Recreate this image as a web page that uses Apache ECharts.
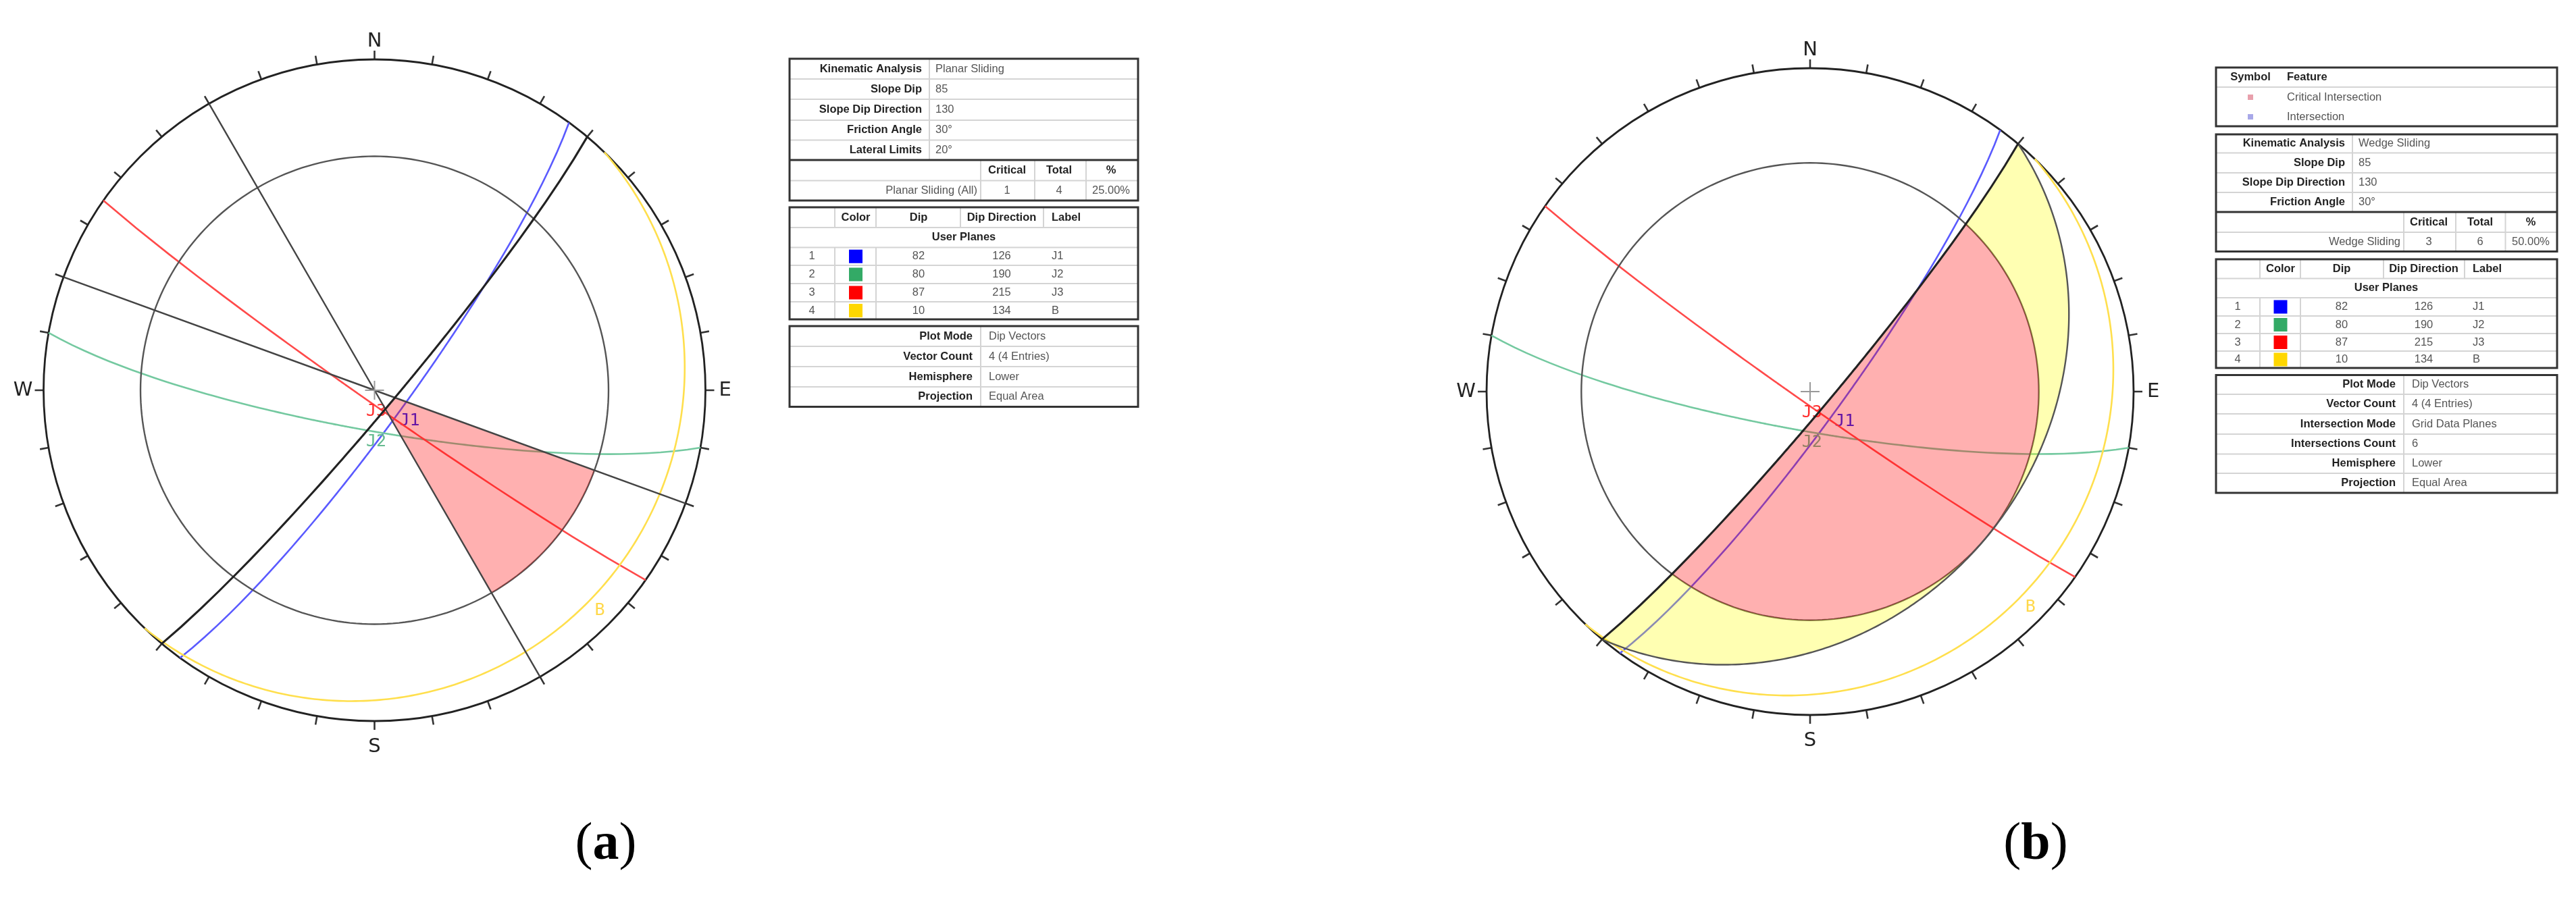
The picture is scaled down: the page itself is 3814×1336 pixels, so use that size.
<!DOCTYPE html>
<html>
<head>
<meta charset="utf-8">
<title>Kinematic analysis stereonets</title>
<script src="https://cdn.jsdelivr.net/npm/echarts@6/dist/echarts.min.js"></script>
<style>
  html, body { margin: 0; padding: 0; background: #fff; }
  #chart { width: 3814px; height: 1336px; filter: blur(0.6px); }
</style>
</head>
<body>
<div id="chart"></div>
<script>
// 结构面数据
const planeIndex = ['1', '2', '3', '4']
const planeDips = [82, 80, 87, 10]
const planeDirs = [126, 190, 215, 134]
const planeLabels = ['J1', 'J2', 'J3', 'B']

const slopeDip = 85
const slopeDir = 130
const frictionAngle = 30
const lateralLimit = 20

const compassAngles = [0, 90, 180, 270]
const compassNames = ['N', 'E', 'S', 'W']

// table text
const planarNames = ['Kinematic Analysis', 'Slope Dip', 'Slope Dip Direction', 'Friction Angle', 'Lateral Limits']
const planarValues = ['Planar Sliding', '85', '130', '30°', '20°']
const planarResult = ['Planar Sliding (All)', '1', '4', '25.00%']
const wedgeNames = ['Kinematic Analysis', 'Slope Dip', 'Slope Dip Direction', 'Friction Angle']
const wedgeValues = ['Wedge Sliding', '85', '130', '30°']
const wedgeResult = ['Wedge Sliding', '3', '6', '50.00%']
const resultHeader = ['Critical', 'Total', '%']
const planesHeader = ['Color', 'Dip', 'Dip Direction', 'Label']
const planesTitle = 'User Planes'
const planarInfoNames = ['Plot Mode', 'Vector Count', 'Hemisphere', 'Projection']
const planarInfoValues = ['Dip Vectors', '4 (4 Entries)', 'Lower', 'Equal Area']
const wedgeInfoNames = ['Plot Mode', 'Vector Count', 'Intersection Mode', 'Intersections Count', 'Hemisphere', 'Projection']
const wedgeInfoValues = ['Dip Vectors', '4 (4 Entries)', 'Grid Data Planes', '6', 'Lower', 'Equal Area']
const symbolHeader = ['Symbol', 'Feature']
const symbolNames = ['Critical Intersection', 'Intersection']

// styles
const planeColors = ['#5a5aff', '#74c9a0', '#ff4a4a', '#ffdf4d']
const swatchColors = ['#0000ff', '#33aa66', '#ff0000', '#ffd700']
const labelColors = ['#2020f0', '#66bb90', '#ff3030', '#ffd84a']
const symbolColors = ['#e8a0ac', '#a8a8e8']
const FONT = '"Liberation Sans"'
const TABLE_SIZE = 16.5

const toRad = Math.PI / 180

// equal area projection, lower hemisphere: plunge -> radius on the net
function plungeRadius(plunge) {
    return Math.SQRT2 * Math.sin((90 - plunge) / 2 * toRad)
}

// radius of a great circle (dip / dip direction) at a given azimuth
function planeRadius(dip, dir, az) {
    let plunge = Math.atan(Math.tan(dip * toRad) * Math.cos((az - dir) * toRad)) / toRad
    return Math.min(plungeRadius(plunge), 1)
}

function norm(az) {
    return ((az % 360) + 360) % 360
}

function planeArc(api, dip, dir, from, to) {
    let pts = []
    let steps = 240
    for (let i = 0; i <= steps; i++) {
        let az = from + (to - from) * i / steps
        pts.push(api.coord([planeRadius(dip, dir, az), norm(az)]))
    }
    return pts
}

function circleArc(api, r, from, to) {
    let pts = []
    let steps = 240
    for (let i = 0; i <= steps; i++) {
        let az = from + (to - from) * i / steps
        pts.push(api.coord([r, norm(az)]))
    }
    return pts
}

function stroke(points, color, width) {
    return { type: 'polyline', silent: true, shape: { points: points }, style: { stroke: color, lineWidth: width, fill: null } }
}

function fill(points, color, edge, width) {
    return { type: 'polygon', silent: true, shape: { points: points }, style: { fill: color, stroke: edge || null, lineWidth: width || 0 } }
}

function customSeries(polarIndex, z, data, renderItem) {
    return {
        type: 'custom',
        coordinateSystem: 'polar',
        polarIndex: polarIndex,
        z: z,
        clip: false,
        silent: true,
        animation: false,
        data: data,
        renderItem: renderItem
    }
}

// the four user planes, curve plus label next to the dip vector
function planesSeries(polarIndex) {
    let data = planeDips.map((d, i) => [d, planeDirs[i]])
    return customSeries(polarIndex, 3, data, (params, api) => {
        let i = params.dataIndex
        let dip = planeDips[i], dir = planeDirs[i]
        let p = api.coord([plungeRadius(dip), dir])
        return {
            type: 'group',
            children: [
                stroke(planeArc(api, dip, dir, dir - 90, dir + 90), planeColors[i], 2.6),
                {
                    type: 'text', silent: true, x: p[0] + 13, y: p[1] + 17,
                    style: {
                        text: planeLabels[i], fill: labelColors[i],
                        font: '25px "DejaVu Sans Mono"', textAlign: 'center', textVerticalAlign: 'middle'
                    }
                }
            ]
        }
    })
}

function frictionSeries(polarIndex) {
    return customSeries(polarIndex, 4, [[plungeRadius(frictionAngle), 0]], (params, api) => {
        return stroke(circleArc(api, plungeRadius(frictionAngle), 0, 360), '#555', 2.4)
    })
}

function slopeSeries(polarIndex) {
    return customSeries(polarIndex, 8, [[slopeDip, slopeDir]], (params, api) => {
        return stroke(planeArc(api, slopeDip, slopeDir, slopeDir - 90, slopeDir + 90), '#222', 3.1)
    })
}

// azimuth where the slope plane crosses the friction circle
function slopeFrictionOffset() {
    return Math.acos(Math.tan(frictionAngle * toRad) / Math.tan(slopeDip * toRad)) / toRad
}

// (a) critical zone of planar sliding
function planarZoneSeries() {
    return customSeries(0, 5, [[slopeDip, slopeDir]], (params, api) => {
        let a = slopeDir - lateralLimit, b = slopeDir + lateralLimit
        let pts = planeArc(api, slopeDip, slopeDir, a, b)
            .concat(circleArc(api, plungeRadius(frictionAngle), b, a))
        return fill(pts, 'rgba(255,0,0,0.31)')
    })
}

// lateral limits, straight diameters over the whole net
function limitSeries() {
    let limits = [slopeDir - lateralLimit, slopeDir + lateralLimit]
    return customSeries(0, 6, limits.map(a => [1, a]), (params, api) => {
        let az = limits[params.dataIndex]
        return stroke([api.coord([1, norm(az + 180)]), api.coord([0, 0]), api.coord([1, az])], '#444', 2.4)
    })
}

// (b) primary (red) and secondary (yellow) wedge sliding zones
function wedgeZoneSeries() {
    return customSeries(1, 5, [[slopeDip, slopeDir], [frictionAngle, slopeDir]], (params, api) => {
        let off = slopeFrictionOffset()
        let r = plungeRadius(frictionAngle)
        let inner = planeArc(api, slopeDip, slopeDir, slopeDir - off, slopeDir + off)
        let arc = circleArc(api, r, slopeDir + off, slopeDir - off)
        if (params.dataIndex === 0) {
            return fill(inner.concat(arc), 'rgba(255,0,0,0.31)')
        }
        let outer = planeArc(api, frictionAngle, slopeDir, slopeDir - 90, slopeDir + 90)
        let tipA = planeArc(api, slopeDip, slopeDir, slopeDir + off, slopeDir + 90)
        let tipB = planeArc(api, slopeDip, slopeDir, slopeDir - 90, slopeDir - off)
        return {
            type: 'group',
            children: [
                fill(outer.concat(tipA.reverse(), arc, tipB.reverse()), 'rgba(255,255,0,0.3)'),
                stroke(outer, '#555', 2.4)
            ]
        }
    })
}

function centerSeries(polarIndex) {
    return customSeries(polarIndex, 9, [[0, 0]], (params, api) => {
        let c = api.coord([0, 0])
        return {
            type: 'group',
            children: [
                { type: 'line', silent: true, shape: { x1: c[0] - 14, y1: c[1], x2: c[0] + 14, y2: c[1] }, style: { stroke: '#999', lineWidth: 2 } },
                { type: 'line', silent: true, shape: { x1: c[0], y1: c[1] - 14, x2: c[0], y2: c[1] + 14 }, style: { stroke: '#999', lineWidth: 2 } }
            ]
        }
    })
}

// ---- table drawing ----
let gfx = []

function hline(x0, x1, y, color, width) {
    gfx.push({ type: 'line', silent: true, shape: { x1: x0, y1: y, x2: x1, y2: y }, style: { stroke: color || '#d4d4d4', lineWidth: width || 2 } })
}
function vline(x, y0, y1, color, width) {
    gfx.push({ type: 'line', silent: true, shape: { x1: x, y1: y0, x2: x, y2: y1 }, style: { stroke: color || '#d4d4d4', lineWidth: width || 2 } })
}
function box(x0, x1, y0, y1) {
    gfx.push({ type: 'rect', silent: true, z: 5, shape: { x: x0, y: y0, width: x1 - x0, height: y1 - y0 }, style: { fill: null, stroke: '#333', lineWidth: 3 } })
}
function label(x, y, str, bold, align) {
    gfx.push({
        type: 'text', silent: true, x: x, y: y,
        style: {
            text: str, fill: bold ? '#222' : '#555',
            font: (bold ? 'bold ' : '') + TABLE_SIZE + 'px ' + FONT,
            textAlign: align || 'left', textVerticalAlign: 'middle'
        }
    })
}
function mid(ys, i) {
    return (ys[i] + ys[i + 1]) / 2
}

function kinematicTable(L, names, values, result) {
    let ys = L.ys
    let n = names.length
    ys.slice(1, -1).forEach(y => hline(L.x0, L.x1, y))
    vline(L.split, ys[0], ys[n])
    L.cols.forEach(x => vline(x, ys[n], ys[n + 2]))
    names.forEach((s, i) => {
        label(L.split - 11, mid(ys, i), s, true, 'right')
        label(L.split + 9, mid(ys, i), values[i])
    })
    resultHeader.forEach((s, i) => label(L.colMid[i], mid(ys, n), s, true, 'center'))
    label(L.cols[0] - 5, mid(ys, n + 1), result[0], false, 'right')
    result.slice(1).forEach((s, i) => label(L.colMid[i], mid(ys, n + 1), s, false, 'center'))
    hline(L.x0, L.x1, ys[n], '#333', 3)
    box(L.x0, L.x1, ys[0], ys[ys.length - 1])
}

function planesTable(L) {
    let ys = L.ys
    ys.slice(1, -1).forEach(y => hline(L.x0, L.x1, y))
    L.cols.forEach(x => vline(x, ys[0], ys[1]))
    L.cols.slice(0, 2).forEach(x => vline(x, ys[2], ys[6]))
    planesHeader.forEach((s, i) => label(L.colMid[i + 1], mid(ys, 0), s, true, i === 3 ? 'left' : 'center'))
    label(L.titleX, mid(ys, 1), planesTitle, true, 'center')
    planeDips.forEach((d, i) => {
        let y = mid(ys, i + 2)
        label(L.colMid[0], y, planeIndex[i], false, 'center')
        gfx.push({ type: 'rect', silent: true, shape: { x: L.colMid[1] - 10, y: y - 10, width: 20, height: 20 }, style: { fill: swatchColors[i] } })
        label(L.colMid[2], y, String(d), false, 'center')
        label(L.colMid[3], y, String(planeDirs[i]), false, 'center')
        label(L.colMid[4], y, planeLabels[i])
    })
    box(L.x0, L.x1, ys[0], ys[6])
}

function infoTable(L, names, values) {
    let ys = L.ys
    ys.slice(1, -1).forEach(y => hline(L.x0, L.x1, y))
    vline(L.split, ys[0], ys[ys.length - 1])
    names.forEach((s, i) => {
        label(L.split - 12, mid(ys, i), s, true, 'right')
        label(L.split + 12, mid(ys, i), values[i])
    })
    box(L.x0, L.x1, ys[0], ys[ys.length - 1])
}

function symbolTable(L) {
    let ys = L.ys
    hline(L.x0, L.x1, ys[1])
    label(L.symX, mid(ys, 0), symbolHeader[0], true, 'center')
    label(L.featX, mid(ys, 0), symbolHeader[1], true)
    symbolNames.forEach((s, i) => {
        let y = mid(ys, i + 1)
        gfx.push({ type: 'rect', silent: true, shape: { x: L.symX - 4, y: y - 4, width: 8, height: 8 }, style: { fill: symbolColors[i] } })
        label(L.featX, y, s)
    })
    box(L.x0, L.x1, ys[0], ys[3])
}

// panel (a) tables
kinematicTable({
    x0: 1169, x1: 1685, split: 1376, ys: [87, 117, 147, 178, 207.5, 237, 267.5, 297],
    cols: [1452, 1532, 1608], colMid: [1491, 1568, 1645]
}, planarNames, planarValues, planarResult)
planesTable({
    x0: 1169, x1: 1685, ys: [307, 337, 366.5, 393, 420, 447, 473],
    cols: [1236, 1297, 1422, 1545], colMid: [1202, 1267, 1360, 1483, 1557], titleX: 1427
})
infoTable({ x0: 1169, x1: 1685, split: 1452, ys: [483, 513, 543, 573, 602.5] }, planarInfoNames, planarInfoValues)

// panel (b) tables
symbolTable({ x0: 3281, x1: 3786, ys: [100, 129, 159, 187], symX: 3332, featX: 3386 })
kinematicTable({
    x0: 3281, x1: 3786, split: 3483, ys: [199, 226.5, 256, 285, 314, 344, 372.5],
    cols: [3559, 3636, 3709.5], colMid: [3596, 3672, 3747]
}, wedgeNames, wedgeValues, wedgeResult)
planesTable({
    x0: 3281, x1: 3786, ys: [384, 412.5, 441, 468, 494, 520, 545],
    cols: [3346, 3406, 3529, 3649], colMid: [3313, 3376.5, 3467, 3588.5, 3661], titleX: 3533
})
infoTable({ x0: 3281, x1: 3786, split: 3559, ys: [555.5, 584, 613, 643, 672.5, 701, 730] }, wedgeInfoNames, wedgeInfoValues)

// captions
function caption(x, y, letter) {
    gfx.push({
        type: 'text', silent: true, x: x, y: y,
        style: {
            text: '{p|(}{b|' + letter + '}{p|)}', textAlign: 'center', textVerticalAlign: 'middle',
            rich: {
                p: { font: '78px "Liberation Serif"', fill: '#000' },
                b: { font: 'bold 78px "Liberation Serif"', fill: '#000' }
            }
        }
    })
}
caption(897, 1252, 'a')
caption(3014, 1252, 'b')

// ---- polar axes: one for each stereonet ----
function angleAxis(polarIndex) {
    return {
        polarIndex: polarIndex,
        type: 'value',
        min: 0,
        max: 360,
        interval: 10,
        startAngle: 90,
        clockwise: true,
        splitLine: { show: false },
        axisLine: { lineStyle: { color: '#222', width: 2.8 } },
        axisTick: { show: true, length: 13, lineStyle: { color: '#333', width: 2.6 } },
        axisLabel: {
            show: true,
            margin: 12,
            color: '#222',
            fontSize: 29,
            fontFamily: '"DejaVu Sans"',
            formatter: function (v) {
                let i = compassAngles.indexOf(v)
                return i < 0 ? '' : '{' + compassNames[i] + '|' + compassNames[i] + '}'
            },
            // the compass letters do not sit at equal distance from the net
            rich: {
                N: { padding: [0, 0, 0, 0] },
                E: { padding: [0, 0, 0, 8] },
                S: { padding: [12, 0, 0, 0] },
                W: { padding: [0, 4, 0, 0] }
            }
        }
    }
}
function radiusAxis(polarIndex) {
    return {
        polarIndex: polarIndex,
        type: 'value',
        min: 0,
        max: 1,
        axisLine: { show: false },
        axisTick: { show: false },
        axisLabel: { show: false },
        splitLine: { show: false }
    }
}

let chart = echarts.init(document.getElementById('chart'))
chart.setOption({
    backgroundColor: '#fff',
    animation: false,
    polar: [
        { center: [554.5, 578], radius: 490 },
        { center: [2680, 580], radius: 479 }
    ],
    angleAxis: [angleAxis(0), angleAxis(1)],
    radiusAxis: [radiusAxis(0), radiusAxis(1)],
    graphic: { elements: gfx },
    series: [
        planesSeries(0), frictionSeries(0), planarZoneSeries(), limitSeries(), slopeSeries(0), centerSeries(0),
        planesSeries(1), frictionSeries(1), wedgeZoneSeries(), slopeSeries(1), centerSeries(1)
    ]
})
</script>
</body>
</html>
